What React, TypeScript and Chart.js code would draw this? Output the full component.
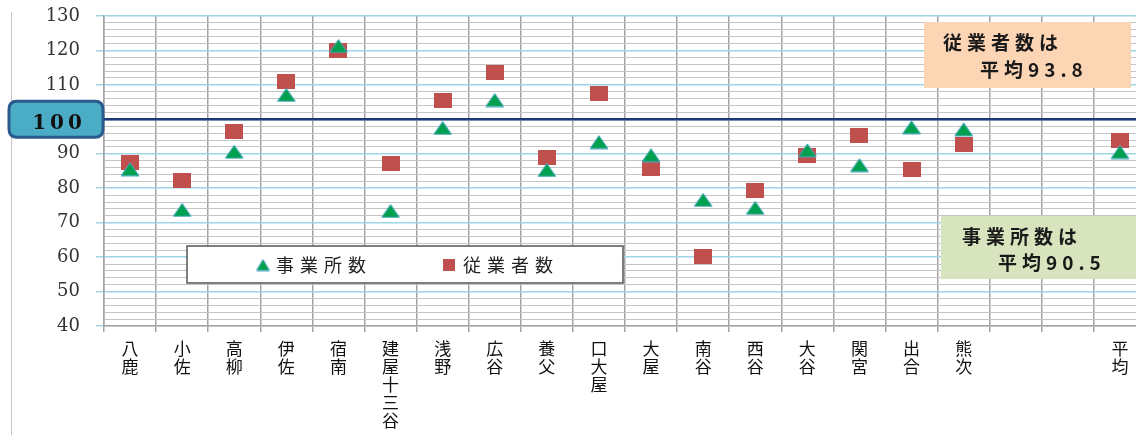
import { useEffect, useRef } from 'react';
import { Chart, registerables } from 'chart.js';

Chart.register(...registerables);

// ---- data ----
const categories: string[][] = [
  ['八', '鹿'], ['小', '佐'], ['高', '柳'], ['伊', '佐'], ['宿', '南'],
  ['建', '屋', '十', '三', '谷'], ['浅', '野'], ['広', '谷'], ['養', '父'], ['口', '大', '屋'],
  ['大', '屋'], ['南', '谷'], ['西', '谷'], ['大', '谷'], ['関', '宮'],
  ['出', '合'], ['熊', '次'], [''], [''], ['平', '均'],
];
const establishments: (number | null)[] = [
  85.5, 73.7, 90.6, 107.1, 121.3, 73.4, 97.5, 105.6, 85.3, 93.4,
  89.6, 76.6, 74.3, 91.0, 86.7, 97.7, 97.1, null, null, 90.5,
];
const employees: (number | null)[] = [
  87.4, 82.1, 96.4, 110.9, 120.1, 87.3, 105.6, 113.7, 88.8, 107.6,
  85.8, 60.1, 79.3, 89.4, 95.4, 85.5, 92.7, null, null, 93.8,
];
const seriesNames = ['事業所数', '従業者数'];
const yMin = 40;
const yMax = 130;
const yMajorStep = 10;
const yMinorStep = 2;
const baseValue = 100;
const baseLabel = '100';
const employeeNote = ['従業者数は', '平均93.8'];
const establishmentNote = ['事業所数は', '平均90.5'];

// ---- styles ----
const GREEN = '#00a04f';
const GREEN_EDGE = '#4aa6c8';
const RED = '#c0504d';
const MAJOR_GRID = '#9ed4e6';
const MINOR_GRID = '#c4c4c4';
const V_GRID = '#a3a3a3';
const NAVY = '#1f3a78';

function triangleCanvas(w: number, h: number) {
  const c = document.createElement('canvas');
  c.width = w + 2;
  c.height = h + 2;
  const g = c.getContext('2d')!;
  g.beginPath();
  g.moveTo(1 + w / 2, 1);
  g.lineTo(1 + w, 1 + h);
  g.lineTo(1, 1 + h);
  g.closePath();
  g.fillStyle = GREEN;
  g.fill();
  g.strokeStyle = GREEN_EDGE;
  g.lineWidth = 1;
  g.stroke();
  return c;
}

function rectCanvas(w: number, h: number) {
  const c = document.createElement('canvas');
  c.width = w;
  c.height = h;
  const g = c.getContext('2d')!;
  g.fillStyle = RED;
  g.fillRect(0, 0, w, h);
  return c;
}

function roundRect(ctx: CanvasRenderingContext2D, x: number, y: number, w: number, h: number, r: number) {
  ctx.beginPath();
  ctx.moveTo(x + r, y);
  ctx.lineTo(x + w - r, y);
  ctx.quadraticCurveTo(x + w, y, x + w, y + r);
  ctx.lineTo(x + w, y + h - r);
  ctx.quadraticCurveTo(x + w, y + h, x + w - r, y + h);
  ctx.lineTo(x + r, y + h);
  ctx.quadraticCurveTo(x, y + h, x, y + h - r);
  ctx.lineTo(x, y + r);
  ctx.quadraticCurveTo(x, y, x + r, y);
  ctx.closePath();
}

function zeroPad(s: any) {
  s.paddingTop = 0;
  s.paddingBottom = 0;
  s.paddingLeft = 0;
  s.paddingRight = 0;
}

export default function App() {
  const ref = useRef<HTMLCanvasElement | null>(null);

  useEffect(() => {
    if (!ref.current) return;
    const tri = triangleCanvas(18, 13);
    const sq = rectCanvas(18, 15);
    const triSmall = triangleCanvas(13, 11);
    const sqSmall = rectCanvas(12, 12);

    const deco = {
      id: 'deco',
      beforeDraw(chart: any) {
        const ctx = chart.ctx as CanvasRenderingContext2D;
        ctx.save();
        ctx.fillStyle = '#ffffff';
        ctx.fillRect(0, 0, chart.width, chart.height);
        ctx.strokeStyle = '#c6c6c6';
        ctx.lineWidth = 1;
        ctx.beginPath();
        ctx.moveTo(11.5, 12);
        ctx.lineTo(11.5, chart.height);
        ctx.stroke();
        ctx.restore();
      },
      beforeDatasetsDraw(chart: any) {
        const ctx = chart.ctx as CanvasRenderingContext2D;
        const y = chart.scales.y.getPixelForValue(baseValue);
        ctx.save();
        ctx.strokeStyle = NAVY;
        ctx.lineWidth = 2.5;
        ctx.beginPath();
        ctx.moveTo(chart.chartArea.left, y);
        ctx.lineTo(chart.chartArea.right, y);
        ctx.stroke();
        ctx.restore();
      },
      afterDraw(chart: any) {
        const ctx = chart.ctx as CanvasRenderingContext2D;
        ctx.save();
        // 100 badge
        const by = chart.scales.y.getPixelForValue(baseValue);
        roundRect(ctx, 9, by - 18, 94, 36, 8);
        ctx.fillStyle = '#4bacc6';
        ctx.fill();
        ctx.strokeStyle = '#2b5a8c';
        ctx.lineWidth = 3;
        ctx.stroke();
        (ctx as any).letterSpacing = '4px';
        ctx.fillStyle = '#111';
        ctx.font = 'bold 20px "DejaVu Serif"';
        ctx.textAlign = 'center';
        ctx.textBaseline = 'middle';
        ctx.fillText(baseLabel, 59, by + 4);

        // employees note (peach)
        ctx.fillStyle = '#fcd5b5';
        ctx.fillRect(924, 22, 207, 66);
        ctx.fillStyle = '#1a1a1a';
        ctx.font = 'bold 19px "Noto Sans CJK JP"';
        (ctx as any).letterSpacing = '5px';
        ctx.textAlign = 'left';
        ctx.fillText(employeeNote[0], 943, 43);
        ctx.fillText(employeeNote[1], 980, 70);

        // establishments note (green)
        ctx.fillStyle = '#d8e4bd';
        ctx.fillRect(941, 216, 200, 63);
        ctx.fillStyle = '#1a1a1a';
        ctx.fillText(establishmentNote[0], 962, 237);
        ctx.fillText(establishmentNote[1], 998, 263);

        // legend
        ctx.fillStyle = '#ffffff';
        ctx.fillRect(187, 246, 436, 37);
        ctx.strokeStyle = '#555';
        ctx.lineWidth = 1.5;
        ctx.strokeRect(187, 246, 436, 37);
        ctx.drawImage(triSmall, 263 - triSmall.width / 2, 265 - triSmall.height / 2);
        ctx.drawImage(sqSmall, 449 - sqSmall.width / 2, 265 - sqSmall.height / 2);
        ctx.fillStyle = '#222';
        ctx.font = '18px "Noto Sans CJK JP"';
        (ctx as any).letterSpacing = '6px';
        ctx.fillText(seriesNames[0], 276, 265);
        ctx.fillText(seriesNames[1], 463, 265);
        (ctx as any).letterSpacing = '0px';
        ctx.restore();
      },
    };

    const chart = new Chart(ref.current, {
      type: 'line',
      data: {
        labels: categories,
        datasets: [
          {
            label: seriesNames[0],
            data: establishments,
            showLine: false,
            pointStyle: tri as any,
            pointRadius: 9,
            backgroundColor: GREEN,
            borderColor: GREEN,
          },
          {
            label: seriesNames[1],
            data: employees,
            showLine: false,
            pointStyle: sq as any,
            pointRadius: 9,
            backgroundColor: RED,
            borderColor: RED,
          },
        ],
      },
      options: {
        responsive: false,
        animation: false,
        devicePixelRatio: 1,
        layout: { padding: { top: 16, right: 14, left: 0, bottom: 0 } },
        plugins: { legend: { display: false }, tooltip: { enabled: false } },
        scales: {
          x: {
            type: 'category',
            offset: true,
            afterFit: (s: any) => { s.height = 109; zeroPad(s); },
            grid: {
              offset: true,
              color: V_GRID,
              lineWidth: 1.5,
              tickLength: 6,
              tickColor: V_GRID,
            },
            border: { color: V_GRID, width: 1.5 },
            ticks: {
              autoSkip: false,
              maxRotation: 0,
              minRotation: 0,
              padding: 8,
              color: '#111',
              font: { family: '"Noto Sans CJK JP"', size: 17, lineHeight: '18px' as any },
            },
          },
          y: {
            min: yMin,
            max: yMax,
            afterFit: (s: any) => { s.width = 104; zeroPad(s); },
            grid: {
              color: (c: any) => (c.tick && c.tick.value % yMajorStep === 0 ? MAJOR_GRID : MINOR_GRID),
              lineWidth: (c: any) => (c.tick && c.tick.value % yMajorStep === 0 ? 1.5 : 1),
              tickLength: 8,
              tickColor: (c: any) => (c.tick && c.tick.value % yMajorStep === 0 ? MAJOR_GRID : 'rgba(0,0,0,0)'),
            },
            border: { color: V_GRID, width: 1.5 },
            ticks: {
              stepSize: yMinorStep,
              autoSkip: false,
              padding: 16,
              color: '#333',
              font: { family: '"DejaVu Serif"', size: 18 },
              callback: (v: any) => (Number(v) % yMajorStep === 0 ? String(v) : ''),
            },
          },
        },
      },
      plugins: [deco],
    } as any);
    return () => chart.destroy();
  }, []);

  return (
    <div style={{ position: 'fixed', left: 0, top: 0, width: 1136, height: 435, overflow: 'hidden', background: '#fff' }}>
      <canvas ref={ref} width={1160} height={435} style={{ display: 'block' }} />
    </div>
  );
}
